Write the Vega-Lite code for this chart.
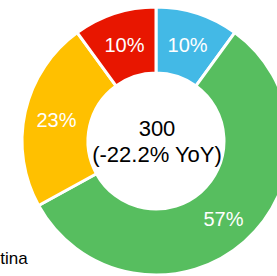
{
  "$schema": "https://vega.github.io/schema/vega-lite/v6.json",
  "width": 240,
  "height": 270,
  "autosize": "none",
  "padding": {"left": 36, "top": 6, "right": 1, "bottom": 0},
  "title": {
    "text": "Argentina",
    "orient": "bottom",
    "anchor": "start",
    "frame": "group",
    "dx": -81,
    "offset": -17,
    "baseline": "alphabetic",
    "fontSize": 17,
    "fontWeight": "normal",
    "font": "Liberation Sans",
    "color": "#000000"
  },
  "layer": [
    {
      "data": {
        "values": [
          {"cat": "Blue", "share": 10, "label": "10%", "ord": 1},
          {"cat": "Green", "share": 57, "label": "57%", "ord": 2},
          {"cat": "Yellow", "share": 23, "label": "23%", "ord": 3},
          {"cat": "Red", "share": 10, "label": "10%", "ord": 4}
        ]
      },
      "encoding": {
        "theta": {"field": "share", "type": "quantitative", "stack": true},
        "order": {"field": "ord", "type": "quantitative"}
      },
      "layer": [
        {
          "mark": {"type": "arc", "innerRadius": 68, "outerRadius": 134, "stroke": "#ffffff", "strokeWidth": 3},
          "encoding": {
            "color": {
              "field": "cat",
              "type": "nominal",
              "scale": {"domain": ["Blue", "Green", "Yellow", "Red"], "range": ["#43b9e6", "#57be5f", "#ffc000", "#e81600"]},
              "legend": null
            }
          }
        },
        {
          "mark": {"type": "text", "radius": 102, "fontSize": 20, "font": "Liberation Sans", "fill": "#ffffff", "dy": 2},
          "encoding": {"text": {"field": "label", "type": "nominal"}}
        }
      ]
    },
    {
      "data": {"values": [{"t": ["300", "(-22.2% YoY)"]}]},
      "mark": {"type": "text", "fontSize": 22, "lineHeight": 26, "font": "Liberation Sans", "fill": "#000000", "baseline": "middle", "align": "center", "dy": -12, "dx": 1},
      "encoding": {"text": {"field": "t"}}
    }
  ],
  "config": {"view": {"stroke": null}}
}
